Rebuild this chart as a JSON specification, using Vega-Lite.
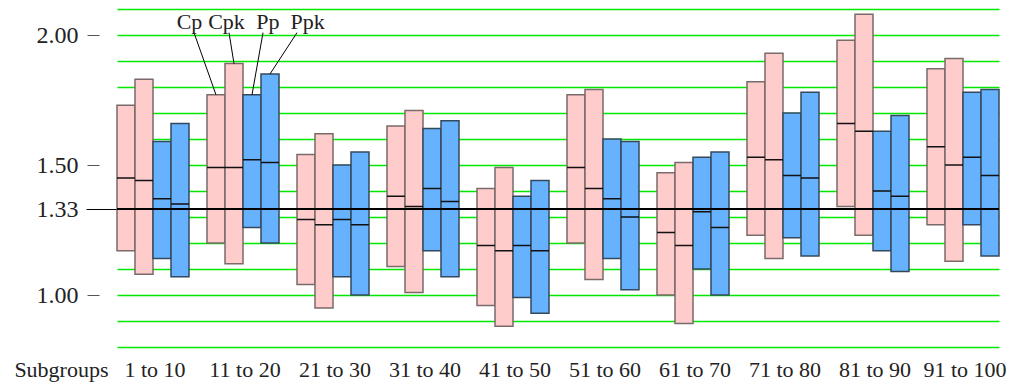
{
  "$schema": "https://vega.github.io/schema/vega-lite/v6.json",
  "width": 882,
  "height": 338,
  "autosize": "none",
  "padding": {"left": 117, "top": 9, "right": 11, "bottom": 38},
  "background": "white",
  "config": {"font": "Liberation Serif", "view": {"stroke": null}, "axis": {"grid": false, "domain": false}},
  "data": {"values": [
    {"group": "1 to 10", "measure": "Cp", "low": 1.17, "mid": 1.45, "high": 1.73},
    {"group": "1 to 10", "measure": "Cpk", "low": 1.08, "mid": 1.44, "high": 1.83},
    {"group": "1 to 10", "measure": "Pp", "low": 1.14, "mid": 1.37, "high": 1.59},
    {"group": "1 to 10", "measure": "Ppk", "low": 1.07, "mid": 1.35, "high": 1.66},
    {"group": "11 to 20", "measure": "Cp", "low": 1.2, "mid": 1.49, "high": 1.77},
    {"group": "11 to 20", "measure": "Cpk", "low": 1.12, "mid": 1.49, "high": 1.89},
    {"group": "11 to 20", "measure": "Pp", "low": 1.26, "mid": 1.52, "high": 1.77},
    {"group": "11 to 20", "measure": "Ppk", "low": 1.2, "mid": 1.51, "high": 1.85},
    {"group": "21 to 30", "measure": "Cp", "low": 1.04, "mid": 1.29, "high": 1.54},
    {"group": "21 to 30", "measure": "Cpk", "low": 0.95, "mid": 1.27, "high": 1.62},
    {"group": "21 to 30", "measure": "Pp", "low": 1.07, "mid": 1.29, "high": 1.5},
    {"group": "21 to 30", "measure": "Ppk", "low": 1.0, "mid": 1.27, "high": 1.55},
    {"group": "31 to 40", "measure": "Cp", "low": 1.11, "mid": 1.38, "high": 1.65},
    {"group": "31 to 40", "measure": "Cpk", "low": 1.01, "mid": 1.34, "high": 1.71},
    {"group": "31 to 40", "measure": "Pp", "low": 1.17, "mid": 1.41, "high": 1.64},
    {"group": "31 to 40", "measure": "Ppk", "low": 1.07, "mid": 1.36, "high": 1.67},
    {"group": "41 to 50", "measure": "Cp", "low": 0.96, "mid": 1.19, "high": 1.41},
    {"group": "41 to 50", "measure": "Cpk", "low": 0.88, "mid": 1.17, "high": 1.49},
    {"group": "41 to 50", "measure": "Pp", "low": 0.99, "mid": 1.19, "high": 1.38},
    {"group": "41 to 50", "measure": "Ppk", "low": 0.93, "mid": 1.17, "high": 1.44},
    {"group": "51 to 60", "measure": "Cp", "low": 1.2, "mid": 1.49, "high": 1.77},
    {"group": "51 to 60", "measure": "Cpk", "low": 1.06, "mid": 1.41, "high": 1.79},
    {"group": "51 to 60", "measure": "Pp", "low": 1.14, "mid": 1.37, "high": 1.6},
    {"group": "51 to 60", "measure": "Ppk", "low": 1.02, "mid": 1.3, "high": 1.59},
    {"group": "61 to 70", "measure": "Cp", "low": 1.0, "mid": 1.24, "high": 1.47},
    {"group": "61 to 70", "measure": "Cpk", "low": 0.89, "mid": 1.19, "high": 1.51},
    {"group": "61 to 70", "measure": "Pp", "low": 1.1, "mid": 1.32, "high": 1.53},
    {"group": "61 to 70", "measure": "Ppk", "low": 1.0, "mid": 1.26, "high": 1.55},
    {"group": "71 to 80", "measure": "Cp", "low": 1.23, "mid": 1.53, "high": 1.82},
    {"group": "71 to 80", "measure": "Cpk", "low": 1.14, "mid": 1.52, "high": 1.93},
    {"group": "71 to 80", "measure": "Pp", "low": 1.22, "mid": 1.46, "high": 1.7},
    {"group": "71 to 80", "measure": "Ppk", "low": 1.15, "mid": 1.45, "high": 1.78},
    {"group": "81 to 90", "measure": "Cp", "low": 1.34, "mid": 1.66, "high": 1.98},
    {"group": "81 to 90", "measure": "Cpk", "low": 1.23, "mid": 1.63, "high": 2.08},
    {"group": "81 to 90", "measure": "Pp", "low": 1.17, "mid": 1.4, "high": 1.63},
    {"group": "81 to 90", "measure": "Ppk", "low": 1.09, "mid": 1.38, "high": 1.69},
    {"group": "91 to 100", "measure": "Cp", "low": 1.27, "mid": 1.57, "high": 1.87},
    {"group": "91 to 100", "measure": "Cpk", "low": 1.13, "mid": 1.5, "high": 1.91},
    {"group": "91 to 100", "measure": "Pp", "low": 1.27, "mid": 1.53, "high": 1.78},
    {"group": "91 to 100", "measure": "Ppk", "low": 1.15, "mid": 1.46, "high": 1.79}
  ]},
  "resolve": {"axis": {"x": "independent", "y": "independent"}},
  "layer": [
    {
      "mark": {"type": "bar", "strokeWidth": 1.5},
      "encoding": {
        "x": {
          "field": "group", "type": "nominal", "sort": null,
          "scale": {"paddingInner": 0.2, "paddingOuter": 0},
          "axis": {
            "title": "Subgroups", "titleFont": "Liberation Serif", "titleFontSize": 22, "titleFontWeight": "normal", "titleColor": "#222",
            "titleAlign": "right", "titleAnchor": "start", "titleBaseline": "alphabetic", "titleX": -9, "titleY": 29, "titleAngle": 0,
            "labelAngle": 0, "labelFont": "Liberation Serif", "labelFontSize": 22, "labelColor": "#222", "labelOffset": 2,
            "labelBaseline": "alphabetic", "labelPadding": 29, "ticks": false, "tickSize": 0, "domain": false, "grid": false, "labelOverlap": false
          }
        },
        "xOffset": {
          "field": "measure", "type": "nominal", "sort": ["Cp", "Cpk", "Pp", "Ppk"],
          "scale": {"paddingInner": 0, "paddingOuter": 0}
        },
        "y": {
          "field": "low", "type": "quantitative",
          "scale": {"domain": [0.8, 2.1], "nice": false, "zero": false},
          "axis": {
            "title": null, "domain": false, "grid": true,
            "values": [0.8, 0.9, 1, 1.1, 1.2, 1.3, 1.33, 1.4, 1.5, 1.6, 1.7, 1.8, 1.9, 2, 2.1],
            "gridColor": "#00e800", "gridWidth": 1.6,
            "gridOpacity": {"condition": {"test": "datum.value == 1.33", "value": 0}, "value": 1},
            "tickSize": 31,
            "tickColor": {"condition": {"test": "datum.value == 1.33", "value": "#000000"}, "value": "#555555"},
            "tickDash": {"condition": {"test": "datum.value == 1.33", "value": []}, "value": [0, 18, 12, 40]},
            "tickOpacity": {"condition": {"test": "datum.value == 1 || datum.value == 1.33 || datum.value == 1.5 || datum.value == 2", "value": 1}, "value": 0},
            "labelExpr": "(datum.value == 1 || datum.value == 1.33 || datum.value == 1.5 || datum.value == 2) ? format(datum.value, '.2f') : ''",
            "labelFont": "Liberation Serif", "labelFontSize": 24, "labelColor": "#222", "labelPadding": 8, "labelOverlap": false
          }
        },
        "y2": {"field": "high"},
        "fill": {
          "field": "measure", "type": "nominal", "legend": null,
          "scale": {"domain": ["Cp", "Cpk", "Pp", "Ppk"], "range": ["#ffcccc", "#ffcccc", "#66b2ff", "#66b2ff"]}
        },
        "stroke": {
          "field": "measure", "type": "nominal", "legend": null,
          "scale": {"domain": ["Cp", "Cpk", "Pp", "Ppk"], "range": ["#7a6a6a", "#7a6a6a", "#34495e", "#34495e"]}
        }
      }
    },
    {
      "mark": {"type": "bar", "fill": "transparent", "stroke": "#111111", "strokeWidth": 1.5},
      "encoding": {
        "x": {"field": "group", "type": "nominal", "sort": null, "axis": null},
        "xOffset": {"field": "measure", "type": "nominal", "sort": ["Cp", "Cpk", "Pp", "Ppk"]},
        "y": {"field": "mid", "type": "quantitative", "axis": null},
        "y2": {"field": "mid"}
      }
    },
    {
      "mark": {"type": "rule", "color": "#000000", "strokeWidth": 1},
      "encoding": {"y": {"datum": 1.33, "type": "quantitative", "axis": null}}
    },
    {
      "transform": [{"filter": "datum.group == '11 to 20'"}],
      "encoding": {
        "x": {"field": "group", "type": "nominal", "sort": null, "axis": null},
        "xOffset": {"field": "measure", "type": "nominal", "sort": ["Cp", "Cpk", "Pp", "Ppk"]}
      },
      "layer": [
        {"transform": [{"filter": "datum.measure == 'Cp'"}],
         "mark": {"type": "rule", "color": "#000000", "strokeWidth": 1, "xOffset": -1, "x2Offset": -49},
         "encoding": {"x2": {"field": "group"}, "y": {"field": "high", "type": "quantitative", "axis": null}, "y2": {"datum": 2.009}}},
        {"transform": [{"filter": "datum.measure == 'Cpk'"}],
         "mark": {"type": "rule", "color": "#000000", "strokeWidth": 1, "xOffset": -2, "x2Offset": -14},
         "encoding": {"x2": {"field": "group"}, "y": {"field": "high", "type": "quantitative", "axis": null}, "y2": {"datum": 2.009}}},
        {"transform": [{"filter": "datum.measure == 'Pp'"}],
         "mark": {"type": "rule", "color": "#000000", "strokeWidth": 1, "xOffset": 0, "x2Offset": 20},
         "encoding": {"x2": {"field": "group"}, "y": {"field": "high", "type": "quantitative", "axis": null}, "y2": {"datum": 2.009}}},
        {"transform": [{"filter": "datum.measure == 'Ppk'"}],
         "mark": {"type": "rule", "color": "#000000", "strokeWidth": 1, "xOffset": 3, "x2Offset": 54},
         "encoding": {"x2": {"field": "group"}, "y": {"field": "high", "type": "quantitative", "axis": null}, "y2": {"datum": 2.009}}},
        {"transform": [{"filter": "datum.measure == 'Cp'"}],
         "mark": {"type": "text", "dx": -26.5, "fontSize": 22, "baseline": "alphabetic", "color": "#222"},
         "encoding": {"y": {"datum": 2.025, "type": "quantitative", "axis": null}, "text": {"field": "measure"}}},
        {"transform": [{"filter": "datum.measure == 'Cpk'"}],
         "mark": {"type": "text", "dx": -7.5, "fontSize": 22, "baseline": "alphabetic", "color": "#222"},
         "encoding": {"y": {"datum": 2.025, "type": "quantitative", "axis": null}, "text": {"field": "measure"}}},
        {"transform": [{"filter": "datum.measure == 'Pp'"}],
         "mark": {"type": "text", "dx": 15.8, "fontSize": 22, "baseline": "alphabetic", "color": "#222"},
         "encoding": {"y": {"datum": 2.025, "type": "quantitative", "axis": null}, "text": {"field": "measure"}}},
        {"transform": [{"filter": "datum.measure == 'Ppk'"}],
         "mark": {"type": "text", "dx": 37.7, "fontSize": 22, "baseline": "alphabetic", "color": "#222"},
         "encoding": {"y": {"datum": 2.025, "type": "quantitative", "axis": null}, "text": {"field": "measure"}}}
      ]
    }
  ]
}
